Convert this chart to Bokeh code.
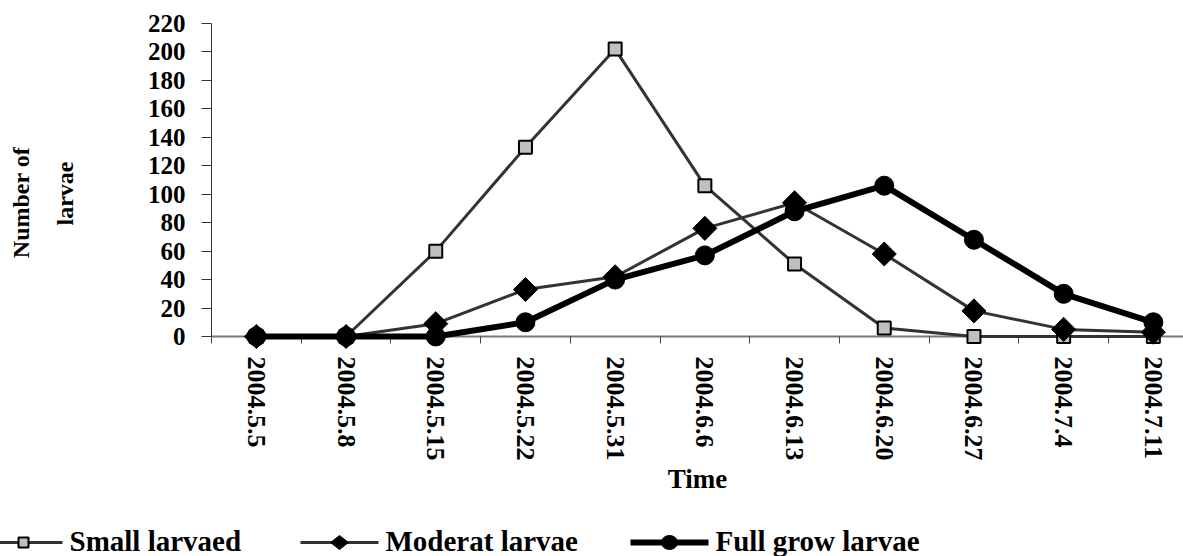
from bokeh.plotting import figure
from bokeh.models import Range1d, FixedTicker
from bokeh.core.properties import value
from bokeh.embed import file_html
from bokeh.resources import INLINE
import math

# ---- data ----
dates = ["2004.5.5", "2004.5.8", "2004.5.15", "2004.5.22", "2004.5.31", "2004.6.6",
         "2004.6.13", "2004.6.20", "2004.6.27", "2004.7.4", "2004.7.11"]
small_larvaed = [0, 0, 60, 133, 202, 106, 51, 6, 0, 0, 0]
moderat_larvae = [0, 0, 9, 33, 42, 76, 94, 58, 18, 5, 3]
full_grow_larvae = [0, 0, 0, 10, 40, 57, 88, 106, 68, 30, 10]
series_names = ["Small larvaed", "Moderat larvae", "Full grow larvae"]
y_ticks = [0, 20, 40, 60, 80, 100, 120, 140, 160, 180, 200, 220]
y_title = ["Number of", "larvae"]

x = list(range(len(dates)))

FRAME_W, FRAME_H = 972, 313
LEFT, TOP, BOTTOM = 211, 23, 220
CAT_W = 89.7
x_end = -0.5 + FRAME_W / CAT_W

FONT = "Liberation Serif"

p = figure(frame_width=FRAME_W, frame_height=FRAME_H,
           x_range=Range1d(-0.5, x_end), y_range=Range1d(0, 220),
           output_backend="svg", toolbar_location=None,
           min_border_left=LEFT, min_border_top=TOP, min_border_right=0,
           min_border_bottom=BOTTOM)
p.outline_line_color = None
p.xgrid.visible = False
p.ygrid.visible = False
p.background_fill_color = "white"
p.border_fill_color = "white"

# y axis
yax = p.yaxis[0]
yax.ticker = FixedTicker(ticks=y_ticks)
yax.major_label_text_font = FONT
yax.major_label_text_font_style = "bold"
yax.major_label_text_font_size = "25px"
yax.major_label_text_color = "black"
yax.major_tick_out = 10
yax.major_tick_in = 0
yax.minor_tick_out = 0
yax.minor_tick_in = 0
yax.major_label_standoff = 16
yax.axis_line_color = "#333333"
yax.major_tick_line_color = "#333333"

# x axis
xax = p.xaxis[0]
xax.ticker = FixedTicker(ticks=x, minor_ticks=[i - 0.5 for i in range(len(dates) + 1)])
xax.major_label_overrides = {i: d for i, d in enumerate(dates)}
xax.major_label_orientation = -math.pi / 2
xax.major_label_text_font = FONT
xax.major_label_text_font_style = "bold"
xax.major_label_text_font_size = "26px"
xax.major_label_text_color = "black"
xax.major_label_standoff = 13
xax.major_tick_out = 0
xax.major_tick_in = 0
xax.minor_tick_out = 7
xax.minor_tick_in = 0
xax.minor_tick_line_color = "#444444"
xax.axis_line_color = "#777777"
xax.axis_line_width = 2
xax.axis_label = "Time"
xax.axis_label_text_font = FONT
xax.axis_label_text_font_style = "bold"
xax.axis_label_text_font_size = "27px"
xax.axis_label_text_color = "black"
xax.axis_label_standoff = 0

# series styles
styles = [
    dict(line_color="#333333", line_width=3, marker="square", size=13, angle=0.0,
         fill_color="#c0c0c0", mline="black", mwidth=2),
    dict(line_color="#333333", line_width=3, marker="square", size=17, angle=math.pi / 4,
         fill_color="black", mline="black", mwidth=1),
    dict(line_color="black", line_width=6, marker="circle", size=19, angle=0.0,
         fill_color="black", mline="black", mwidth=1),
]
for vals, st in zip([small_larvaed, moderat_larvae, full_grow_larvae], styles):
    p.line(x, vals, line_color=st["line_color"], line_width=st["line_width"], level="overlay")
    p.scatter(x, vals, marker=st["marker"], size=st["size"], angle=st["angle"],
              fill_color=st["fill_color"], line_color=st["mline"],
              line_width=st["mwidth"], level="overlay")

# helpers: canvas pixels -> data coordinates (for texts placed outside the frame)
def data_x(px):
    return -0.5 + (px - LEFT) / CAT_W

def data_y(py):
    return 220 * (TOP + FRAME_H - py) / FRAME_H

# y axis title, two lines
for txt, cx, cy in zip(y_title, [20, 64], [202, 193]):
    p.text([data_x(cx)], [data_y(cy)], text=[txt], angle=math.pi / 2,
           text_font=value(FONT), text_font_style="bold",
           text_font_size=value("24px"), text_color="black",
           text_align="center", text_baseline="middle", level="overlay")

# legend sample shapes (marker outlines, pixel offsets)
def shape(kind, cx, cy):
    if kind == 0:      # small square
        h = 5
        pts = [(-h, -h), (h, -h), (h, h), (-h, h)]
    elif kind == 1:    # diamond
        pts = [(-9, 0), (0, -7), (9, 0), (0, 7)]
    else:              # circle
        pts = [(8 * math.cos(t * math.pi / 16), 7 * math.sin(t * math.pi / 16))
               for t in range(32)]
    return ([data_x(cx + dx) for dx, dy in pts], [data_y(cy + dy) for dx, dy in pts])

leg_starts = [-16, 300, 630]   # canvas x where each legend sample line starts
LEG_W, LEG_Y, TXT_GAP, TXT_MID = 78, 542, 7, 540
for k, (name, st, sx) in enumerate(zip(series_names, styles, leg_starts)):
    p.line([data_x(sx), data_x(sx + LEG_W)], [data_y(LEG_Y)] * 2,
           line_color=st["line_color"], line_width=st["line_width"], level="overlay")
    xs, ys = shape(k, sx + LEG_W / 2, LEG_Y)
    p.patch(xs, ys, fill_color=st["fill_color"], line_color=st["mline"],
            line_width=st["mwidth"], level="overlay")
    p.text([data_x(sx + LEG_W + TXT_GAP)], [data_y(TXT_MID)], text=[name],
           text_font=value(FONT), text_font_style="bold",
           text_font_size=value("29px"), text_color="black",
           text_align="left", text_baseline="middle", level="overlay")

open("out.html", "w").write(file_html(p, INLINE))
